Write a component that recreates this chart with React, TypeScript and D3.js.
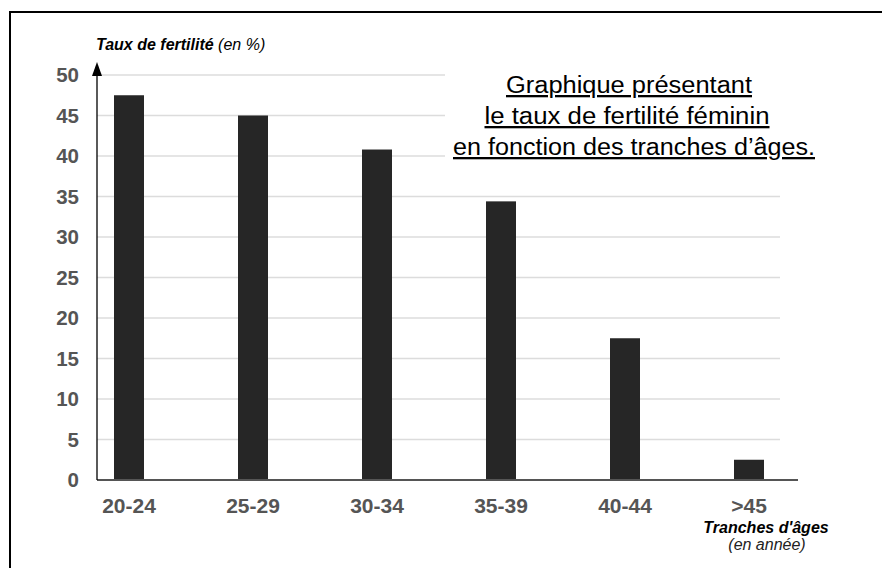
import React from "react";
import * as d3 from "d3";

const categories = ["20-24", "25-29", "30-34", "35-39", "40-44", ">45"];
const values = [47.5, 45, 40.8, 34.4, 17.5, 2.5];
const yTicks = [0, 5, 10, 15, 20, 25, 30, 35, 40, 45, 50];
const titleLines = ["Graphique présentant", "le taux de fertilité féminin", "en fonction des tranches d’âges."];

const W = 882;
const H = 568;

export default function App() {
  const y = d3.scaleLinear().domain([0, 50]).range([480, 75]);
  const x = d3.scalePoint<string>().domain(categories).range([129, 749]);
  const barW = 30;
  const axisX = 97;
  const font = "Liberation Sans, Arial, sans-serif";
  const titleCx = [629, 627, 634];
  const titleW = [246, 285, 362];
  return (
    <svg width={W} height={H} style={{ position: "absolute", left: 0, top: 0 }}>
      <rect x={0} y={0} width={W} height={H} fill="#fff" />
      <rect x={10} y={12} width={900} height={700} fill="none" stroke="#000" strokeWidth={2} />
      {yTicks.map((t) => (
        <line key={"g" + t} x1={axisX} x2={780} y1={y(t)} y2={y(t)} stroke="#dcdcdc" strokeWidth={1.3} />
      ))}
      <rect x={445} y={64} width={380} height={104} fill="#fff" />
      {categories.map((c, i) => (
        <rect key={c} x={x(c)! - barW / 2} y={y(values[i])} width={barW} height={y(0) - y(values[i])} fill="#262626" />
      ))}
      <line x1={axisX} x2={798} y1={y(0)} y2={y(0)} stroke="#555" strokeWidth={2.2} />
      <line x1={axisX} x2={axisX} y1={y(0)} y2={72} stroke="#000" strokeWidth={1.3} />
      <path d={`M${axisX},62 L${axisX - 5},76 L${axisX + 5},76 Z`} fill="#000" />
      {yTicks.map((t) => (
        <text key={"t" + t} x={79} y={y(t)} dy="0.36em" textAnchor="end" fontFamily={font} fontWeight="bold" fontSize={20.5} fill="#555">
          {t}
        </text>
      ))}
      {categories.map((c) => (
        <text key={"l" + c} x={x(c)!} y={513} textAnchor="middle" fontFamily={font} fontWeight="bold" fontSize={21} fill="#555">
          {c}
        </text>
      ))}
      <text x={96} y={50} fontFamily={font} fontSize={16} fontStyle="italic" fill="#000">
        <tspan fontWeight="bold">Taux de fertilité</tspan>
        <tspan> (en %)</tspan>
      </text>
      <text x={766} y={533} textAnchor="middle" fontFamily={font} fontSize={16} fontStyle="italic" fontWeight="bold" fill="#000">
        Tranches d'âges
      </text>
      <text x={767} y={550} textAnchor="middle" fontFamily={font} fontSize={16} fontStyle="italic" fill="#222">
        (en année)
      </text>
      {titleLines.map((l, i) => (
        <text
          key={l}
          x={titleCx[i]}
          y={93 + i * 31}
          textAnchor="middle"
          fontFamily={font}
          fontSize={23}
          fill="#000"
          textDecoration="underline"
          textLength={titleW[i]}
          lengthAdjust="spacingAndGlyphs"
        >
          {l}
        </text>
      ))}
    </svg>
  );
}
